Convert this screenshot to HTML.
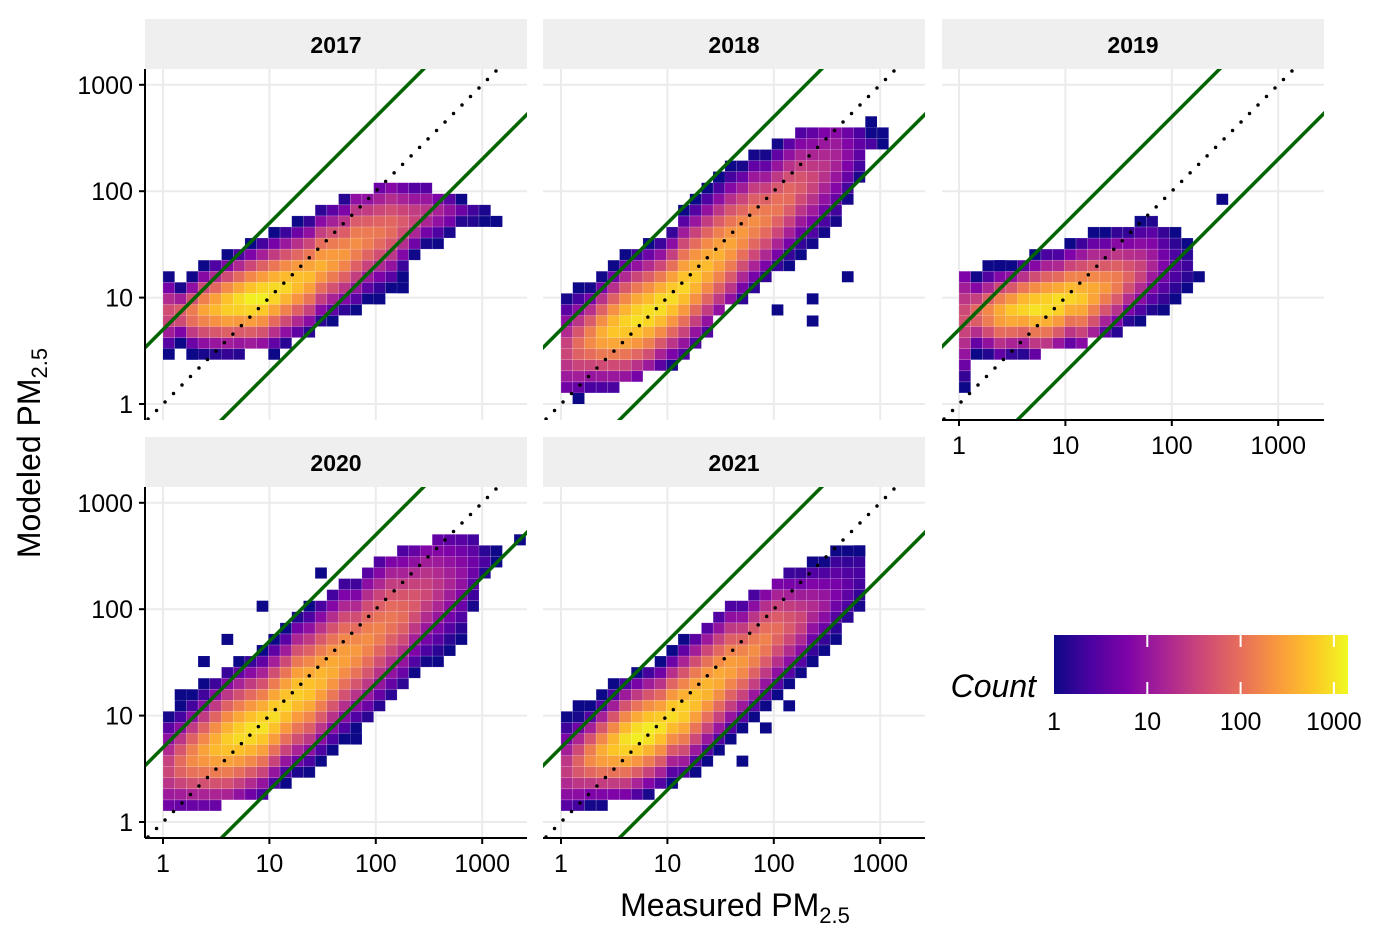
<!DOCTYPE html>
<html><head><meta charset="utf-8"><style>
body{margin:0;background:#fff}
svg{display:block;font-family:"Liberation Sans",sans-serif}
</style></head><body>
<svg id="chart" width="1380" height="943" viewBox="0 0 1380 943">
<defs>
<linearGradient id="plasma" x1="0" x2="1" y1="0" y2="0">
<stop offset="0" stop-color="#0d0887"/><stop offset="0.125" stop-color="#4c02a1"/><stop offset="0.25" stop-color="#7e03a8"/><stop offset="0.375" stop-color="#a92395"/><stop offset="0.5" stop-color="#cc4778"/><stop offset="0.625" stop-color="#e56b5d"/><stop offset="0.75" stop-color="#f89540"/><stop offset="0.875" stop-color="#fdc328"/><stop offset="1" stop-color="#f0f921"/>
</linearGradient>
</defs>
</svg>
<script>
// Columns: x bin index i -> log10(measured) = i*0.11; lo/hi/ctr in log10(modeled); peak = log10(count)
const years = ["2017","2018","2019","2020","2021"];
const tickLabels = ["1","10","100","1000"];
const legendTicks = ["1","10","100","1000"];
const lo2017 = [.55,.6,.5,.5,.5,.5,.5,.55,.55,.6,.6,.65,.7,.75,.8,.85,.9,1.0,1.05,1.1,1.25,1.4,1.5,1.55,1.6,1.7,1.7,1.75];
const hi2017 = [1.2,1.1,1.2,1.3,1.35,1.4,1.45,1.5,1.55,1.6,1.65,1.7,1.75,1.8,1.85,1.9,1.95,1.95,2.0,2.0,2.0,2.0,2.0,1.95,1.95,1.9,1.85,1.8];
const ctr2017 = [.85,.85,.85,.88,.9,.92,.95,.97,1.0,1.05,1.1,1.15,1.2,1.3,1.35,1.4,1.5,1.55,1.6,1.65,1.7,1.75,1.8,1.8,1.8,1.8,1.78,1.78];
const peak2017 = [1.7,1.9,2.2,2.5,2.7,2.9,3.0,3.1,3.1,3.0,2.9,2.8,2.7,2.6,2.5,2.4,2.3,2.2,2.1,2.0,1.8,1.6,1.4,1.2,1.0,.7,.5,.3];
const lo2018 = [.15,.1,.15,.15,.2,.25,.3,.35,.4,.4,.5,.6,.7,.85,.95,1.0,1.05,1.15,1.25,1.35,1.45,1.5,1.6,1.7,1.9,2.1,2.4,2.45];
const hi2018 = [1.0,1.05,1.1,1.2,1.3,1.4,1.45,1.5,1.55,1.65,1.8,1.9,2.0,2.1,2.2,2.25,2.3,2.35,2.4,2.45,2.5,2.55,2.6,2.6,2.6,2.55,2.55,2.55];
const ctr2018 = [.5,.55,.6,.65,.7,.75,.8,.85,.92,1.0,1.1,1.2,1.3,1.4,1.5,1.6,1.7,1.75,1.85,1.95,2.05,2.1,2.2,2.3,2.35,2.4,2.45,2.5];
const peak2018 = [1.6,2.0,2.3,2.6,2.8,2.9,3.0,3.0,3.0,2.95,2.9,2.8,2.7,2.6,2.5,2.4,2.3,2.2,2.1,2.0,1.8,1.6,1.4,1.2,.9,.6,.4,.2];
const lo2019 = [.2,.5,.5,.5,.5,.5,.5,.55,.55,.6,.6,.65,.65,.7,.75,.8,.85,.9,1.05,1.1];
const hi2019 = [1.2,1.2,1.25,1.3,1.3,1.35,1.4,1.45,1.45,1.5,1.55,1.6,1.6,1.65,1.65,1.7,1.7,1.6,1.6,1.5];
const ctr2019 = [.8,.85,.85,.85,.87,.9,.9,.92,.95,1.0,1.0,1.05,1.1,1.15,1.2,1.25,1.3,1.3,1.3,1.3];
const peak2019 = [1.7,2.0,2.3,2.6,2.8,2.9,3.0,3.0,3.0,2.9,2.8,2.6,2.4,2.2,1.9,1.6,1.2,.8,.5,.3];
const lo2020 = [.15,.15,.2,.2,.2,.25,.25,.3,.3,.35,.4,.45,.5,.6,.7,.8,.9,.95,1.05,1.15,1.25,1.4,1.5,1.55,1.65,1.75,2.0,2.3,2.45];
const hi2020 = [1.0,1.05,1.15,1.25,1.35,1.45,1.5,1.55,1.6,1.7,1.8,1.9,2.0,2.05,2.15,2.2,2.25,2.3,2.4,2.45,2.5,2.55,2.6,2.65,2.7,2.7,2.65,2.6,2.55];
const ctr2020 = [.5,.55,.6,.65,.7,.75,.8,.85,.9,1.0,1.1,1.2,1.25,1.35,1.45,1.55,1.6,1.7,1.8,1.9,1.95,2.05,2.15,2.2,2.25,2.3,2.4,2.45,2.5];
const peak2020 = [1.6,2.0,2.3,2.5,2.7,2.85,2.95,3.0,3.0,2.95,2.9,2.85,2.8,2.7,2.6,2.5,2.4,2.3,2.2,2.1,2.0,1.8,1.6,1.4,1.2,1.0,.7,.4,.2];
const lo2021 = [.15,.2,.2,.2,.25,.25,.3,.3,.35,.4,.45,.5,.6,.7,.8,.9,1.0,1.1,1.2,1.3,1.4,1.55,1.65,1.75,1.9,2.0];
const hi2021 = [.95,1.0,1.05,1.15,1.25,1.35,1.4,1.45,1.5,1.6,1.7,1.75,1.85,1.95,2.0,2.05,2.1,2.15,2.25,2.3,2.35,2.4,2.45,2.5,2.55,2.6];
const ctr2021 = [.5,.55,.6,.65,.7,.75,.8,.85,.9,1.0,1.05,1.15,1.25,1.35,1.45,1.5,1.6,1.7,1.8,1.85,1.9,2.0,2.05,2.15,2.2,2.3];
const peak2021 = [1.5,1.9,2.3,2.6,2.8,3.0,3.1,3.1,3.0,2.95,2.9,2.8,2.7,2.6,2.5,2.4,2.3,2.2,2.0,1.8,1.6,1.3,1.1,.8,.6,.4];
// isolated single-count cells [log measured, log modeled]
const stray2017 = [[0,.46],[.22,.46],[1.0,.42],[2.2,1.2],[2.2,1.05],[1.98,.95],[3.1,1.75]];
const stray2018 = [[1.45,2.17],[2.32,.97],[2.32,.76],[2.67,1.15],[2.0,.87],[.15,.05],[2.86,2.7]];
const stray2019 = [[2.43,1.97],[2.23,1.15],[.38,1.35],[2.0,1.0],[1.87,.85]];
const stray2020 = [[.9,2.05],[1.45,2.35],[.58,1.75],[.37,1.54],[.14,1.15],[3.3,2.6],[1.8,.8]];
const stray2021 = [[.16,1.05],[2.1,1.05],[1.68,.54],[2.75,2.55],[2.4,1.5],[1.9,.85]];

const LO=[lo2017,lo2018,lo2019,lo2020,lo2021], HI=[hi2017,hi2018,hi2019,hi2020,hi2021],
      CT=[ctr2017,ctr2018,ctr2019,ctr2020,ctr2021], PK=[peak2017,peak2018,peak2019,peak2020,peak2021],
      ST=[stray2017,stray2018,stray2019,stray2020,stray2021];
const svg=document.getElementById('chart'), NS='http://www.w3.org/2000/svg';
function mk(tag,attrs,parent){const e=document.createElementNS(NS,tag);for(const k in attrs)e.setAttribute(k,attrs[k]);(parent||svg).appendChild(e);return e;}
const K=106.4, XB=0.11, YB=0.104;
const panels=[{l:145,r:527,t:69,b:420,x0:163,y0:404},{l:543,r:925,t:69,b:420,x0:561,y0:404},{l:942,r:1324,t:69,b:420,x0:959,y0:404},
  {l:145,r:527,t:487,b:838,x0:163,y0:822},{l:543,r:925,t:487,b:838,x0:561,y0:822}];
const stops=[[13,8,135],[76,2,161],[126,3,168],[169,35,149],[204,71,120],[229,107,93],[248,149,64],[253,195,40],[240,249,33]];
function plasma(t){t=Math.max(0,Math.min(1,t))*8;const i=Math.min(7,Math.floor(t)),f=t-i,a=stops[i],b=stops[i+1];
  return 'rgb('+a.map((v,k)=>Math.round(v+(b[k]-v)*f)).join(',')+')';}
const CMAX=3.16;
panels.forEach((p,pi)=>{
  const sx=v=>p.x0+v*K, sy=v=>p.y0-v*K;
  const g=mk('g',{});  
  const cid='clip'+pi; const cp=mk('clipPath',{id:cid},g); mk('rect',{x:p.l,y:p.t,width:p.r-p.l,height:p.b-p.t},cp);
  const strip=mk('rect',{x:p.l,y:p.t-50,width:p.r-p.l,height:50,fill:'#efefef'},g);
   
  const st=mk('text',{x:(p.l+p.r)/2,y:p.t-16,'text-anchor':'middle','font-size':'23','font-weight':'bold'},g); st.textContent=years[pi];
   
  tickLabels.forEach((lab,k)=>{
    const gx=mk('line',{x1:sx(k),x2:sx(k),y1:p.t,y2:p.b,stroke:'#ebebeb','stroke-width':2},g);
     
    const gy=mk('line',{x1:p.l,x2:p.r,y1:sy(k),y2:sy(k),stroke:'#ebebeb','stroke-width':2},g);
     
  });
  const cells=mk('g',{'clip-path':'url(#'+cid+')'},g);
   
  const lo=LO[pi],hi=HI[pi],ct=CT[pi],pk=PK[pi];
  for(let i=0;i<lo.length;i++){
    const x=i*XB, half=Math.max(ct[i]-lo[i],hi[i]-ct[i],0.05);
    for(let j=Math.floor(lo[i]/YB);j*YB<hi[i];j++){
      const yc=(j+0.5)*YB, d=Math.min(1,Math.abs(yc-ct[i])/half);
      const c=Math.max(0,pk[i]*(1-Math.pow(d,1.5)));
      const r=mk('rect',{x:sx(x),y:sy((j+1)*YB),width:XB*K,height:YB*K,fill:plasma(c/CMAX),stroke:'rgba(255,255,255,0.3)','stroke-width':0.5},cells);
       
    }
  }
  ST[pi].forEach(s=>{
    const j=Math.floor(s[1]/YB), i=Math.floor(s[0]/XB+0.0001);
    const r=mk('rect',{x:sx(i*XB),y:sy((j+1)*YB),width:XB*K,height:YB*K,fill:plasma(0)},cells);
     
  });
  const lines=mk('g',{'clip-path':'url(#'+cid+')'},g);
  const one=mk('line',{x1:sx(-0.3),y1:sy(-0.3),x2:sx(3.5),y2:sy(3.5),stroke:'#000','stroke-width':3.5,'stroke-dasharray':'0 12','stroke-linecap':'round'},lines);
   
  const f=Math.log10(5);
  const up=mk('line',{x1:sx(-0.5),y1:sy(-0.5+f),x2:sx(3.5),y2:sy(3.5+f),stroke:'#006400','stroke-width':3.5},lines);
   
  const dn=mk('line',{x1:sx(-0.5),y1:sy(-0.5-f),x2:sx(3.6),y2:sy(3.6-f),stroke:'#006400','stroke-width':3.5},lines);
   
  if(pi===0||pi===3){
    const ax=mk('line',{x1:p.l,x2:p.l,y1:p.t,y2:p.b,stroke:'#000','stroke-width':2},g);
     
    tickLabels.forEach((lab,k)=>{
      mk('line',{x1:p.l-6,x2:p.l,y1:sy(k),y2:sy(k),stroke:'#000','stroke-width':2},g);
      const t=mk('text',{x:p.l-12,y:sy(k)+9,'text-anchor':'end','font-size':'25'},g); t.textContent=lab;
       
    });
  }
  if(pi>=2){
    const ax=mk('line',{x1:p.l,x2:p.r,y1:p.b,y2:p.b,stroke:'#000','stroke-width':2},g);
     
    tickLabels.forEach((lab,k)=>{
      mk('line',{x1:sx(k),x2:sx(k),y1:p.b,y2:p.b+6,stroke:'#000','stroke-width':2},g);
      const t=mk('text',{x:sx(k),y:p.b+34,'text-anchor':'middle','font-size':'25'},g); t.textContent=lab;
       
    });
  }
});
// legend
const lg=mk('g',{});  
const lt=mk('text',{x:1036,y:697,'text-anchor':'end','font-size':'32','font-style':'italic'},lg); lt.textContent='Count';
 
const bar=mk('rect',{x:1054,y:635,width:294,height:59,fill:'url(#plasma)'},lg);
 
const LK=93.3;
legendTicks.forEach((lab,k)=>{
  const x=1054+k*LK;
  if(k>0){mk('line',{x1:x,x2:x,y1:635,y2:647,stroke:'#fff','stroke-width':2},lg);mk('line',{x1:x,x2:x,y1:682,y2:694,stroke:'#fff','stroke-width':2},lg);}
  const t=mk('text',{x:x,y:730,'text-anchor':'middle','font-size':'25'},lg); t.textContent=lab;
   
});
</script>
<div style="position:absolute;left:32px;top:453px;transform:translate(-50%,-50%) rotate(-90deg);white-space:nowrap;font-family:'Liberation Sans',sans-serif;font-size:32px">Modeled PM<sub style="font-size:22px">2.5</sub></div>
<div style="position:absolute;left:735px;top:908px;transform:translate(-50%,-50%);white-space:nowrap;font-family:'Liberation Sans',sans-serif;font-size:32px">Measured PM<sub style="font-size:22px">2.5</sub></div>
</body></html>
